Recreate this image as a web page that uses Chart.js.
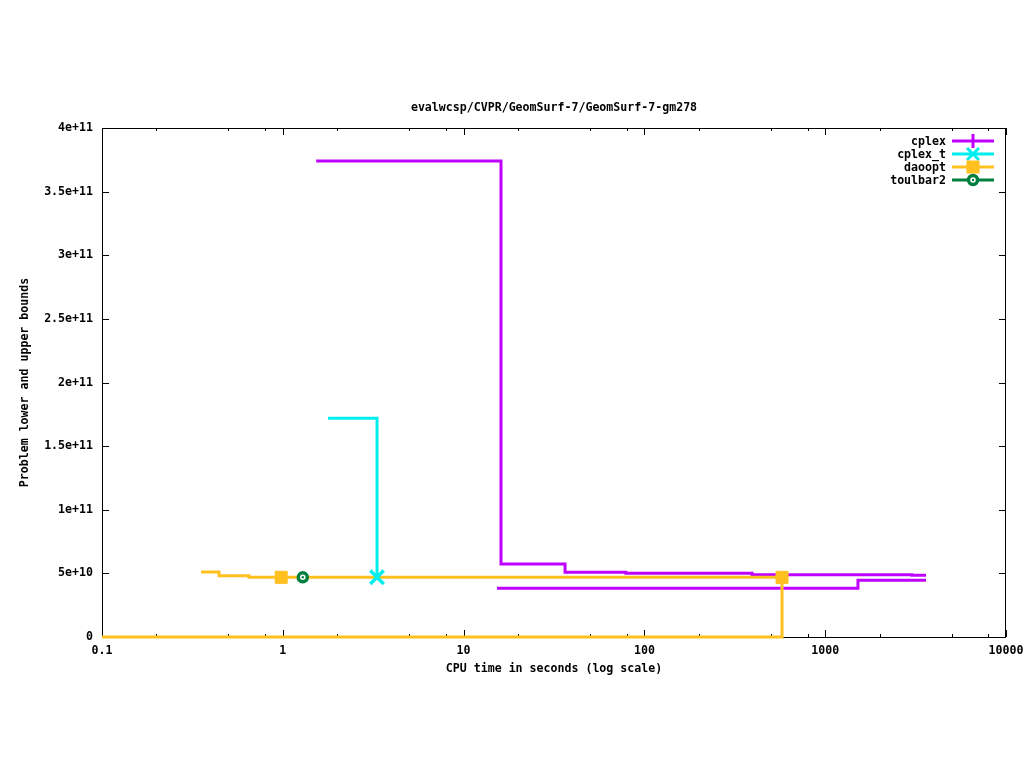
<!DOCTYPE html>
<html>
<head>
<meta charset="utf-8">
<script src="https://cdn.jsdelivr.net/npm/chart.js@4/dist/chart.umd.min.js"></script>
<style>
  html, body { margin: 0; padding: 0; background: #fff; }
  #wrap { width: 1024px; height: 768px; }
</style>
</head>
<body>
<div id="wrap"><canvas id="mycanvas" width="1024" height="768"></canvas></div>
<script>
// values (time in seconds, bound value)
var cplexUpperTime  = [1.53, 16.1, 36.4, 79, 394, 3020, 3610];
var cplexUpperValue = [3.74e11, 5.74e10, 5.09e10, 5.01e10, 4.90e10, 4.85e10, 4.85e10];
var cplexLowerTime  = [15.3, 1518, 3610];
var cplexLowerValue = [3.83e10, 4.46e10, 4.46e10];

var cplextUpperTime  = [1.78, 3.32];
var cplextUpperValue = [1.72e11, 4.69e10];
var cplextMarks      = [3.32];

var daooptUpperTime  = [0.353, 0.444, 0.65, 0.98, 577];
var daooptUpperValue = [5.11e10, 4.82e10, 4.69e10, 4.69e10, 4.69e10];
var daooptLowerTime  = [0.1, 577];
var daooptLowerValue = [0, 4.69e10];
var daooptMarks      = [0.98, 577];

var toulbarTime  = [1.29];
var toulbarValue = [4.69e10];
var toulbarMarks = [1.29];

var xTickValues = [0.1, 1, 10, 100, 1000, 10000];
var seriesNames = ["cplex", "cplex_t", "daoopt", "toulbar2"];

var PURPLE = "#c000ff", CYAN = "#00eeee", ORANGE = "#ffc020", GREEN = "#008040";
var FONT = { family: "'DejaVu Sans Mono', 'Liberation Mono', monospace", size: 11.6, weight: "bold" };

function pts(t, v) {
	var out = [];
	for (var i in t) {
		out.push({ x: t[i], y: v[i] });
	}
	return out;
}

function markRadius(marks, r) {
	return function(c) {
		return (c.raw && marks.indexOf(c.raw.x) >= 0) ? r : 0;
	};
}

function gnuFmt(v) {
	if (v === 0) return "0";
	var e = Math.floor(Math.log10(v) + 1e-9);
	var m = Math.round(v / Math.pow(10, e) * 100) / 100;
	return m + "e+" + e;
}

function drawMark(ctx, style, x, y, color) {
	ctx.save();
	ctx.strokeStyle = color;
	ctx.fillStyle = color;
	ctx.lineWidth = 3;
	ctx.beginPath();
	if (style === "plus") {
		ctx.moveTo(x, y - 7); ctx.lineTo(x, y + 7);
		ctx.stroke();
	} else if (style === "x") {
		ctx.moveTo(x - 6, y - 6); ctx.lineTo(x + 6, y + 6);
		ctx.moveTo(x + 6, y - 6); ctx.lineTo(x - 6, y + 6);
		ctx.stroke();
	} else if (style === "square") {
		ctx.fillRect(x - 6.5, y - 6.5, 13, 13);
	} else if (style === "ring") {
		ctx.lineWidth = 3.5;
		ctx.arc(x, y, 4.5, 0, Math.PI * 2);
		ctx.fillStyle = "#fff";
		ctx.fill();
		ctx.stroke();
		ctx.beginPath();
		ctx.fillStyle = color;
		ctx.arc(x, y, 1.2, 0, Math.PI * 2);
		ctx.fill();
	}
	ctx.restore();
}

// frame and gnuplot style inward ticks
var framePlugin = {
	id: "frame",
	beforeDatasetsDraw: function(chart) {
		var ctx = chart.ctx, a = chart.chartArea;
		var xs = chart.scales.x, ys = chart.scales.y;
		ctx.save();
		ctx.strokeStyle = "#000";
		ctx.lineWidth = 1;
		ctx.strokeRect(a.left + 0.5, a.top + 0.5, a.right - a.left - 1, a.bottom - a.top);
		ctx.beginPath();
		for (var d = 0.1; d <= 10000.5; d *= 10) {
			[1, 2, 5, 8].forEach(function(k) {
				var v = d * k;
				if (v > 10001) return;
				var px = Math.round(xs.getPixelForValue(v)) + 0.5;
				var len = k === 1 ? 7 : 3;
				ctx.moveTo(px, a.bottom); ctx.lineTo(px, a.bottom - len);
				ctx.moveTo(px, a.top); ctx.lineTo(px, a.top + len);
			});
		}
		for (var yv = 5e10; yv < 4e11; yv += 5e10) {
			var py = Math.round(ys.getPixelForValue(yv)) + 0.5;
			ctx.moveTo(a.left, py); ctx.lineTo(a.left + 7, py);
			ctx.moveTo(a.right, py); ctx.lineTo(a.right - 7, py);
		}
		ctx.stroke();
		ctx.restore();
	}
};

var legendPlugin = {
	id: "gnuLegend",
	afterDraw: function(chart) {
		var ctx = chart.ctx;
		var colors = [PURPLE, CYAN, ORANGE, GREEN];
		var styles = ["plus", "x", "square", "ring"];
		ctx.save();
		ctx.font = FONT.weight + " " + FONT.size + "px " + FONT.family;
		ctx.textAlign = "right";
		ctx.textBaseline = "middle";
		for (var i = 0; i < seriesNames.length; i++) {
			var y = 141 + i * 13;
			ctx.fillStyle = "#000";
			ctx.fillText(seriesNames[i], 946, y + 1);
			ctx.strokeStyle = colors[i];
			ctx.lineWidth = 3;
			ctx.beginPath();
			ctx.moveTo(952, y); ctx.lineTo(994, y);
			ctx.stroke();
			drawMark(ctx, styles[i], 973, y, colors[i]);
		}
		ctx.restore();
	}
};

function lineSet(data, color, extra) {
	var ds = {
		data: data,
		borderColor: color,
		backgroundColor: color,
		borderWidth: 3,
		fill: false,
		stepped: "before",
		pointRadius: 0,
		pointHoverRadius: 0,
		clip: 4,
		xAxisID: "x",
		yAxisID: "y"
	};
	for (var k in extra) ds[k] = extra[k];
	return ds;
}

var chartdata = {
	datasets: [
		lineSet(pts(cplexUpperTime, cplexUpperValue), PURPLE, { label: "cplex", order: 5 }),
		lineSet(pts(cplexLowerTime, cplexLowerValue), PURPLE, { label: "cplex lower", order: 5 }),
		lineSet(pts(cplextUpperTime, cplextUpperValue), CYAN, {
			label: "cplex_t", order: 2, pointStyle: "crossRot", pointRadius: markRadius(cplextMarks, 9.5), pointBorderWidth: 3.5
		}),
		lineSet(pts(daooptLowerTime, daooptLowerValue), ORANGE, { label: "daoopt lower", order: 3 }),
		lineSet(pts(daooptUpperTime, daooptUpperValue), ORANGE, {
			label: "daoopt", order: 3, pointStyle: "rect", pointRadius: markRadius(daooptMarks, 8.5), pointBorderWidth: 1
		}),
		lineSet(pts(toulbarTime, toulbarValue), GREEN, {
			label: "toulbar2", order: 1, pointStyle: "circle", pointRadius: markRadius(toulbarMarks, 4.5),
			pointBorderWidth: 3.5, pointBackgroundColor: "#fff"
		}),
		lineSet(pts(toulbarTime, toulbarValue), GREEN, {
			label: "toulbar2 dot", order: 0, showLine: false, pointStyle: "circle", pointRadius: 1.2, pointBorderWidth: 0
		})
	]
};

var ctx = document.getElementById("mycanvas");

var LineGraph = new Chart(ctx, {
	type: "line",
	data: chartdata,
	plugins: [framePlugin, legendPlugin],
	options: {
		responsive: false,
		animation: false,
		layout: { padding: { left: 0, right: 18, top: 0, bottom: 0 } },
		plugins: {
			legend: { display: false },
			title: { display: false },
			tooltip: { enabled: false }
		},
		scales: {
			x: {
				type: "logarithmic",
				position: "bottom",
				min: 0.1,
				max: 10000,
				grid: { display: false, drawTicks: false },
				border: { display: false },
				afterBuildTicks: function(s) {
					s.ticks = xTickValues.map(function(v) { return { value: v }; });
				},
				afterFit: function(s) {
					s.height = 131;
					s.paddingLeft = 0;
					s.paddingRight = 0;
				},
				ticks: {
					color: "#000",
					font: FONT,
					padding: 7,
					maxRotation: 0,
					autoSkip: false,
					callback: function(v) { return String(v); }
				},
				title: {
					display: true,
					text: "CPU time in seconds (log scale)",
					color: "#000",
					font: FONT,
					padding: { top: 0, bottom: 92 }
				}
			},
			x2: {
				type: "logarithmic",
				position: "top",
				min: 0.1,
				max: 10000,
				grid: { display: false, drawTicks: false },
				border: { display: false },
				ticks: { display: false },
				afterFit: function(s) {
					s.height = 128;
					s.paddingLeft = 0;
					s.paddingRight = 0;
				},
				title: {
					display: true,
					text: "evalwcsp/CVPR/GeomSurf-7/GeomSurf-7-gm278",
					color: "#000",
					font: FONT,
					padding: { top: 101, bottom: 0 }
				}
			},
			y: {
				type: "linear",
				position: "left",
				min: 0,
				max: 4e11,
				grid: { display: false, drawTicks: false },
				border: { display: false },
				afterFit: function(s) { s.width = 102; },
				ticks: {
					stepSize: 5e10,
					color: "#000",
					font: FONT,
					padding: 9,
					callback: function(v) { return gnuFmt(v); }
				},
				title: {
					display: true,
					text: "Problem lower and upper bounds",
					color: "#000",
					font: FONT,
					padding: { top: 18, bottom: 0 }
				}
			}
		}
	}
});
</script>
</body>
</html>
